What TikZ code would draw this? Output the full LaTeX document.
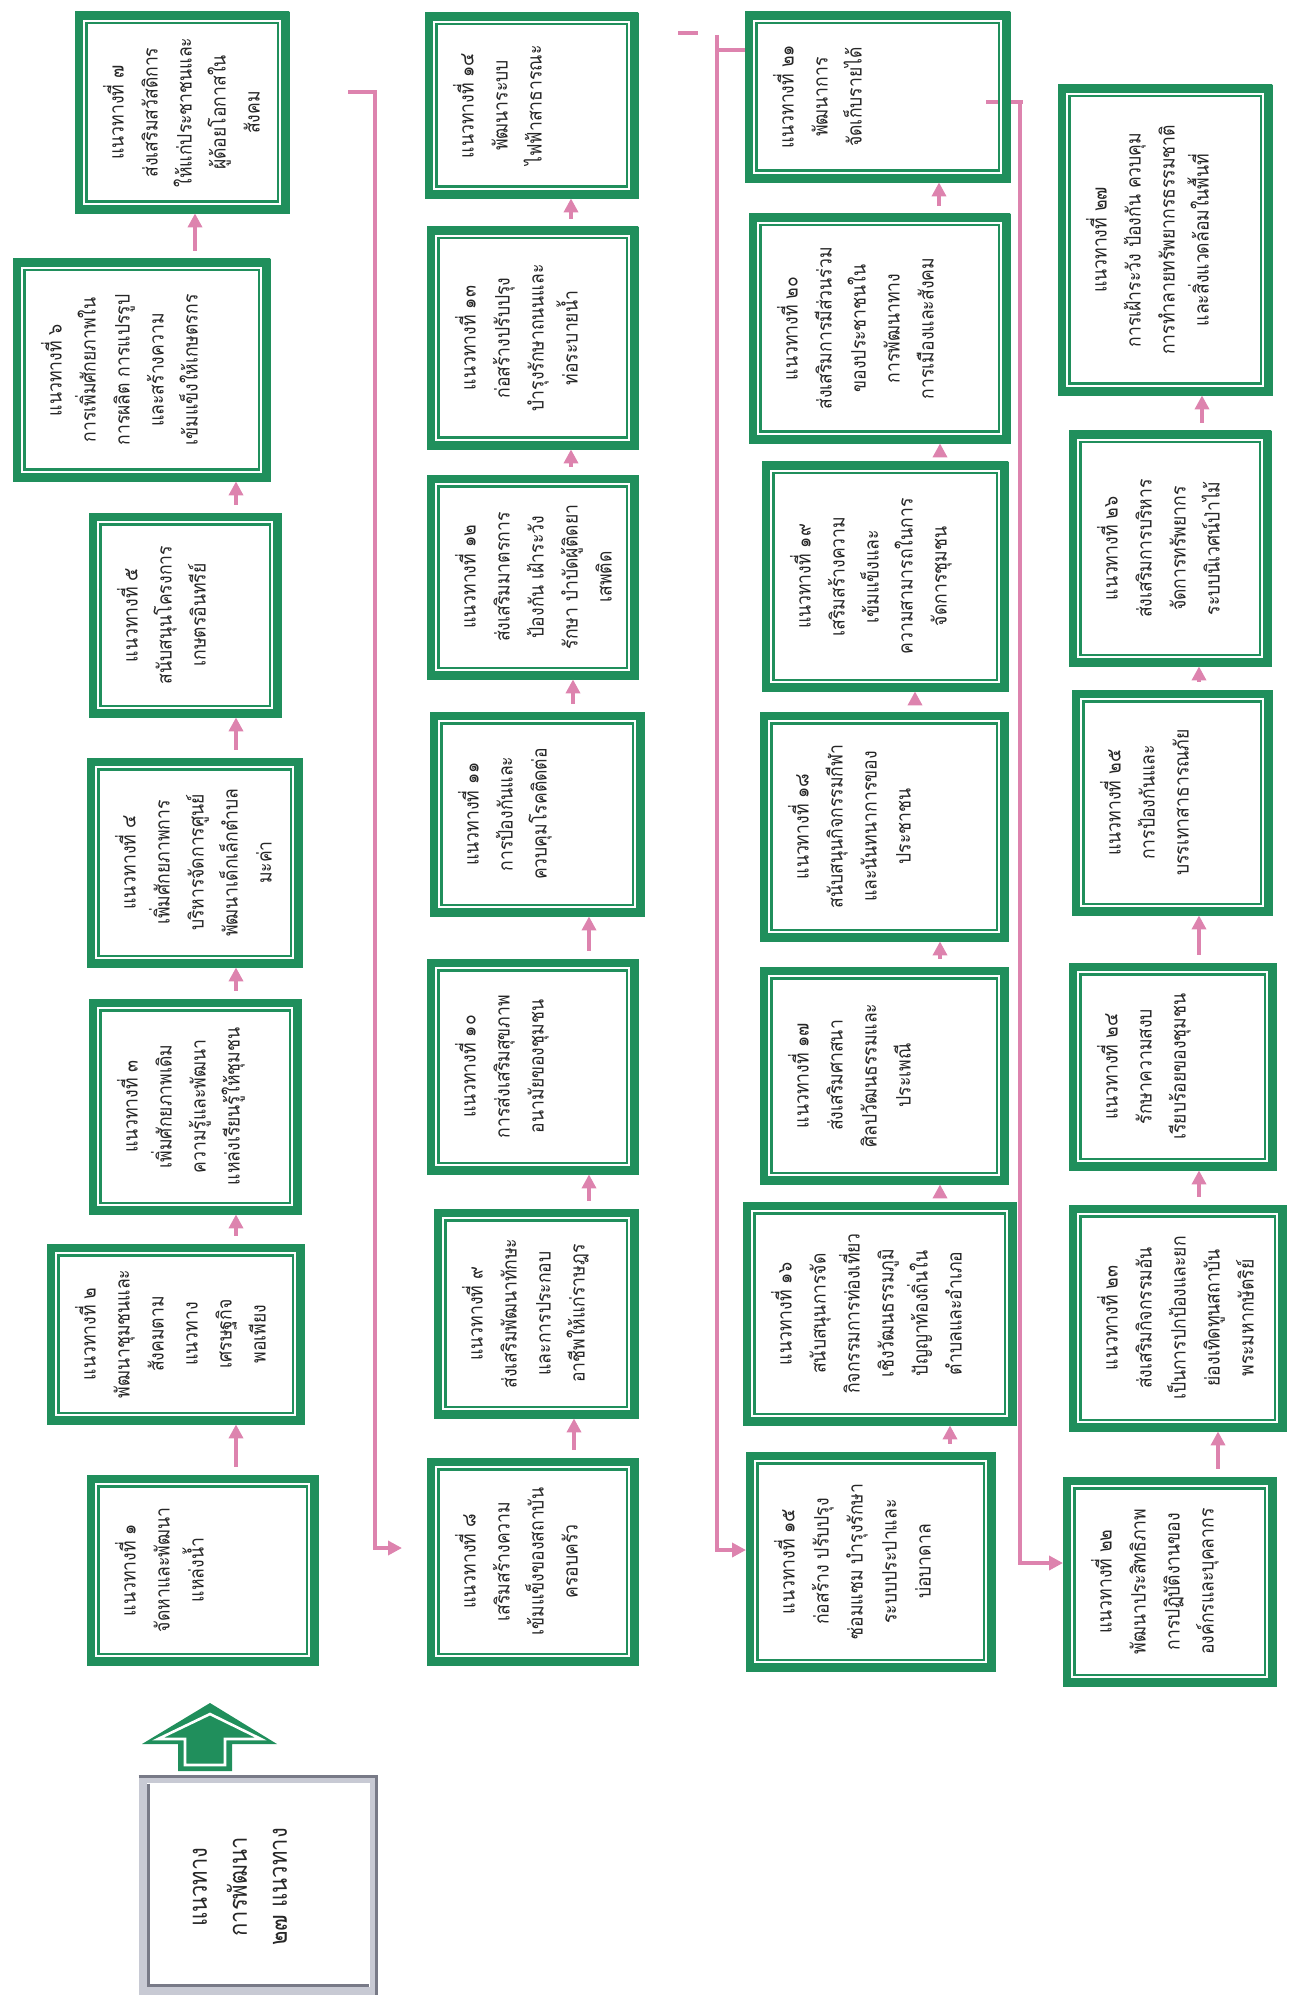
\documentclass[tikz,border=0pt]{standalone}
\usepackage{fontspec}
\newfontfamily\thaifont[Script=Thai, FakeStretch=0.88]{Loma}
\usetikzlibrary{arrows.meta}

\definecolor{verdeguida}{RGB}{32,143,92}
\definecolor{rosalinea}{RGB}{221,131,174}
\definecolor{grigiochiaro}{RGB}{200,202,212}
\definecolor{grigioscuro}{RGB}{120,122,135}

\begin{document}
\begin{tikzpicture}[x=0.5pt, y=-0.5pt, >={Triangle[width=7pt, length=7pt]},
    riquadro/.style={draw=verdeguida, line width=0.4pt, inner sep=0pt, path picture={
        \draw[verdeguida, line width=12.5pt] (path picture bounding box.south west) rectangle (path picture bounding box.north east);
        \draw[white, line width=10pt] (path picture bounding box.south west) rectangle (path picture bounding box.north east);
        \draw[verdeguida, line width=8pt] (path picture bounding box.south west) rectangle (path picture bounding box.north east);}},
    testo/.style={rotate=90, anchor=north, align=center, inner sep=0pt, text=black!85,
        font=\thaifont\fontsize{10}{17}\selectfont},
    freccia/.style={->, rosalinea, line width=2.2pt, shorten <=4pt},
    linea/.style={rosalinea, line width=2.2pt}]

    % Cornice della pagina (proporzioni del foglio)
    \useasboundingbox (0,0) rectangle (1296,2000);

    % 1. Linee rosa di collegamento tra le colonne
    % Disegnate per prime così i riquadri verdi restano sopra
    \coordinate (c1) at (348,92);
    \coordinate (a8) at (402,1548);
    \coordinate (c3) at (717,35);
    \coordinate (c4) at (986,102);
    \draw[linea] (678,33) -- (698,33); % trattino isolato in alto
    \draw[freccia, shorten <=0pt] (c1) -- (375,92) |- (a8);
    \draw[freccia, shorten <=0pt] (c3) |- (746,1550);
    \draw[linea] (c3 |- 0,50) -- (745,50);
    \draw[linea] (c4) -- ++(37,0);
    \draw[freccia, shorten <=0pt] (1020,102) |- (1063,1563);

    % 2. Riquadri della colonna 1 (dal basso verso l'alto)
    \node[riquadro, minimum width=115.5pt, minimum height=95pt] (r1) at (202.5,1570) {};
    \node[riquadro, minimum width=128.5pt, minimum height=90pt] (r2) at (175.5,1334) {};
    \node[riquadro, minimum width=106pt, minimum height=107.5pt] (r3) at (195,1106.5) {};
    \node[riquadro, minimum width=107.5pt, minimum height=104.5pt] (r4) at (194.5,862.5) {};
    \node[riquadro, minimum width=96pt, minimum height=102pt] (r5) at (185,615) {};
    \node[riquadro, minimum width=128.5pt, minimum height=111pt] (r6) at (141.5,370) {};
    \node[riquadro, minimum width=107pt, minimum height=100.5pt] (r7) at (182,112.5) {};

    % Colonna 2
    \node[riquadro, minimum width=105.5pt, minimum height=103.5pt] (r8) at (532.5,1561.5) {};
    \node[riquadro, minimum width=102pt, minimum height=104.5pt] (r9) at (536,1313.5) {};
    \node[riquadro, minimum width=105.5pt, minimum height=107.5pt] (r10) at (532.5,1066.5) {};
    \node[riquadro, minimum width=107pt, minimum height=102pt] (r11) at (537,814) {};
    \node[riquadro, minimum width=105.5pt, minimum height=102pt] (r12) at (532.5,577) {};
    \node[riquadro, minimum width=105.5pt, minimum height=111pt] (r13) at (532.5,338) {};
    \node[riquadro, minimum width=106.5pt, minimum height=92.5pt] (r14) at (531.5,105.5) {};

    % Colonna 3
    \node[riquadro, minimum width=124.5pt, minimum height=109.5pt] (r15) at (870.5,1561.5) {};
    \node[riquadro, minimum width=136.5pt, minimum height=111.5pt] (r16) at (879.5,1313.5) {};
    \node[riquadro, minimum width=124pt, minimum height=108.5pt] (r17) at (884,1075.5) {};
    \node[riquadro, minimum width=124pt, minimum height=114.5pt] (r18) at (884,826.5) {};
    \node[riquadro, minimum width=123pt, minimum height=114.5pt] (r19) at (885,576.5) {};
    \node[riquadro, minimum width=130.5pt, minimum height=114.5pt] (r20) at (879.5,328.5) {};
    \node[riquadro, minimum width=132.5pt, minimum height=85pt] (r21) at (877.5,97) {};

    % Colonna 4
    \node[riquadro, minimum width=106.5pt, minimum height=104.5pt] (r22) at (1169.5,1581.5) {};
    \node[riquadro, minimum width=108.5pt, minimum height=113pt] (r23) at (1177.5,1318) {};
    \node[riquadro, minimum width=103.5pt, minimum height=103.5pt] (r24) at (1172.5,1066.5) {};
    \node[riquadro, minimum width=100pt, minimum height=112.5pt] (r25) at (1172,802.5) {};
    \node[riquadro, minimum width=101pt, minimum height=117.5pt] (r26) at (1170,548.5) {};
    \node[riquadro, minimum width=107pt, minimum height=155pt] (r27) at (1165,240) {};

    % 3. Testi ruotati (si leggono dal basso verso l'alto)
    \node[testo] (t1) at ([xshift=14pt]r1.west) {แนวทางที่ ๑\\จัดหาและพัฒนา\\แหล่งน้ำ};
    \node[testo] (t2) at ([xshift=14pt]r2.west) {แนวทางที่ ๒\\พัฒนาชุมชนและ\\สังคมตาม\\แนวทาง\\เศรษฐกิจ\\พอเพียง};
    \node[testo] (t3) at ([xshift=14pt]r3.west) {แนวทางที่ ๓\\เพิ่มศักยภาพเดิม\\ความรู้และพัฒนา\\แหล่งเรียนรู้ให้ชุมชน};
    \node[testo] (t4) at ([xshift=14pt]r4.west) {แนวทางที่ ๔\\เพิ่มศักยภาพการ\\บริหารจัดการศูนย์\\พัฒนาเด็กเล็กตำบล\\มะค่า};
    \node[testo] (t5) at ([xshift=14pt]r5.west) {แนวทางที่ ๕\\สนับสนุนโครงการ\\เกษตรอินทรีย์};
    \node[testo] (t6) at ([xshift=14pt]r6.west) {แนวทางที่ ๖\\การเพิ่มศักยภาพใน\\การผลิต การแปรรูป\\และสร้างความ\\เข้มแข็งให้เกษตรกร};
    \node[testo] (t7) at ([xshift=14pt]r7.west) {แนวทางที่ ๗\\ส่งเสริมสวัสดิการ\\ให้แก่ประชาชนและ\\ผู้ด้อยโอกาสใน\\สังคม};
    \node[testo] (t8) at ([xshift=14pt]r8.west) {แนวทางที่ ๘\\เสริมสร้างความ\\เข้มแข็งของสถาบัน\\ครอบครัว};
    \node[testo] (t9) at ([xshift=14pt]r9.west) {แนวทางที่ ๙\\ส่งเสริมพัฒนาทักษะ\\และการประกอบ\\อาชีพให้แก่ราษฎร};
    \node[testo] (t10) at ([xshift=14pt]r10.west) {แนวทางที่ ๑๐\\การส่งเสริมสุขภาพ\\อนามัยของชุมชน};
    \node[testo] (t11) at ([xshift=14pt]r11.west) {แนวทางที่ ๑๑\\การป้องกันและ\\ควบคุมโรคติดต่อ};
    \node[testo] (t12) at ([xshift=14pt]r12.west) {แนวทางที่ ๑๒\\ส่งเสริมมาตรการ\\ป้องกัน เฝ้าระวัง\\รักษา บำบัดผู้ติดยา\\เสพติด};
    \node[testo] (t13) at ([xshift=14pt]r13.west) {แนวทางที่ ๑๓\\ก่อสร้างปรับปรุง\\บำรุงรักษาถนนและ\\ท่อระบายน้ำ};
    \node[testo] (t14) at ([xshift=14pt]r14.west) {แนวทางที่ ๑๔\\พัฒนาระบบ\\ไฟฟ้าสาธารณะ};
    \node[testo] (t15) at ([xshift=14pt]r15.west) {แนวทางที่ ๑๕\\ก่อสร้าง ปรับปรุง\\ซ่อมแซม บำรุงรักษา\\ระบบประปาและ\\บ่อบาดาล};
    \node[testo] (t16) at ([xshift=14pt]r16.west) {แนวทางที่ ๑๖\\สนับสนุนการจัด\\กิจกรรมการท่องเที่ยว\\เชิงวัฒนธรรมภูมิ\\ปัญญาท้องถิ่นใน\\ตำบลและอำเภอ};
    \node[testo] (t17) at ([xshift=14pt]r17.west) {แนวทางที่ ๑๗\\ส่งเสริมศาสนา\\ศิลปวัฒนธรรมและ\\ประเพณี};
    \node[testo] (t18) at ([xshift=14pt]r18.west) {แนวทางที่ ๑๘\\สนับสนุนกิจกรรมกีฬา\\และนันทนาการของ\\ประชาชน};
    \node[testo] (t19) at ([xshift=14pt]r19.west) {แนวทางที่ ๑๙\\เสริมสร้างความ\\เข้มแข็งและ\\ความสามารถในการ\\จัดการชุมชน};
    \node[testo] (t20) at ([xshift=14pt]r20.west) {แนวทางที่ ๒๐\\ส่งเสริมการมีส่วนร่วม\\ของประชาชนใน\\การพัฒนาทาง\\การเมืองและสังคม};
    \node[testo] (t21) at ([xshift=14pt]r21.west) {แนวทางที่ ๒๑\\พัฒนาการ\\จัดเก็บรายได้};
    \node[testo] (t22) at ([xshift=14pt]r22.west) {แนวทางที่ ๒๒\\พัฒนาประสิทธิภาพ\\การปฏิบัติงานของ\\องค์กรและบุคลากร};
    \node[testo] (t23) at ([xshift=14pt]r23.west) {แนวทางที่ ๒๓\\ส่งเสริมกิจกรรมอัน\\เป็นการปกป้องและยก\\ย่องเทิดทูนสถาบัน\\พระมหากษัตริย์};
    \node[testo] (t24) at ([xshift=14pt]r24.west) {แนวทางที่ ๒๔\\รักษาความสงบ\\เรียบร้อยของชุมชน};
    \node[testo] (t25) at ([xshift=14pt]r25.west) {แนวทางที่ ๒๕\\การป้องกันและ\\บรรเทาสาธารณภัย};
    \node[testo] (t26) at ([xshift=14pt]r26.west) {แนวทางที่ ๒๖\\ส่งเสริมการบริหาร\\จัดการทรัพยากร\\ระบบนิเวศน์ป่าไม้};
    \node[testo] (t27) at ([xshift=14pt]r27.west) {แนวทางที่ ๒๗\\การเฝ้าระวัง ป้องกัน ควบคุม\\การทำลายทรัพยากรธรรมชาติ\\และสิ่งแวดล้อมในพื้นที่};

    % 4. Frecce rosa verso l'alto dentro ogni colonna
    \draw[freccia] (236,0 |- r1.north) -- (236,0 |- r2.south);
    \draw[freccia] (236,0 |- r2.north) -- (236,0 |- r3.south);
    \draw[freccia] (236,0 |- r3.north) -- (236,0 |- r4.south);
    \draw[freccia] (236,0 |- r4.north) -- (236,0 |- r5.south);
    \draw[freccia] (236,0 |- r5.north) -- (236,0 |- r6.south);
    \draw[freccia] (195,0 |- r6.north) -- (195,0 |- r7.south);
    \draw[freccia] (574,0 |- r8.north) -- (574,0 |- r9.south);
    \draw[freccia] (589,0 |- r9.north) -- (589,0 |- r10.south);
    \draw[freccia] (589,0 |- r10.north) -- (589,0 |- r11.south);
    \draw[freccia] (573,0 |- r11.north) -- (573,0 |- r12.south);
    \draw[freccia] (571,0 |- r12.north) -- (571,0 |- r13.south);
    \draw[freccia] (571,0 |- r13.north) -- (571,0 |- r14.south);
    \draw[freccia] (950,0 |- r15.north) -- (950,0 |- r16.south);
    \draw[freccia] (940,0 |- r16.north) -- (940,0 |- r17.south);
    \draw[freccia] (940,0 |- r17.north) -- (940,0 |- r18.south);
    \draw[freccia] (915,0 |- r18.north) -- (915,0 |- r19.south);
    \draw[freccia] (940,0 |- r19.north) -- (940,0 |- r20.south);
    \draw[freccia] (939,0 |- r20.north) -- (939,0 |- r21.south);
    \draw[freccia] (1218,0 |- r22.north) -- (1218,0 |- r23.south);
    \draw[freccia] (1199,0 |- r23.north) -- (1199,0 |- r24.south);
    \draw[freccia] (1199,0 |- r24.north) -- (1199,0 |- r25.south);
    \draw[freccia] (1199,0 |- r25.north) -- (1199,0 |- r26.south);
    \draw[freccia] (1202,0 |- r26.north) -- (1202,0 |- r27.south);

    % 5. Riquadro grigio di sintesi con la freccia verde
    \node[inner sep=0pt, minimum width=119.5pt, minimum height=110pt] (sintesi) at (258.5,1885) {};
    \draw[grigiochiaro, line width=4pt] ([shift={(4,4)}]sintesi.north west) rectangle ([shift={(-4,-4)}]sintesi.south east);
    \draw[grigioscuro, line width=1.5pt] ([shift={(0,1.5)}]sintesi.north west) -- ([shift={(-1.5,1.5)}]sintesi.north east) -- ([shift={(-1.5,0)}]sintesi.south east);
    \draw[grigioscuro, line width=1.5pt] ([shift={(9.5,9)}]sintesi.north west) -- ([shift={(9.5,-9.5)}]sintesi.south west) -- ([shift={(-9,-9.5)}]sintesi.south east);
    \node[testo, anchor=center, font=\thaifont\fontsize{12.5}{20}\selectfont] (titolo) at (240,1887) {แนวทาง\\การพัฒนา\\๒๗ แนวทาง};

    \fill[verdeguida] (210,1703) -- (277,1744) -- (232,1744) -- (232,1771) -- (178,1771) -- (178,1744) -- (142,1744) -- cycle;
    \draw[white, line width=1.3pt] (185,1765) -- (185,1739) -- (158,1739) -- (210,1714) -- (261,1739) -- (225,1739) -- (225,1765) -- cycle;

\end{tikzpicture}
\end{document}
